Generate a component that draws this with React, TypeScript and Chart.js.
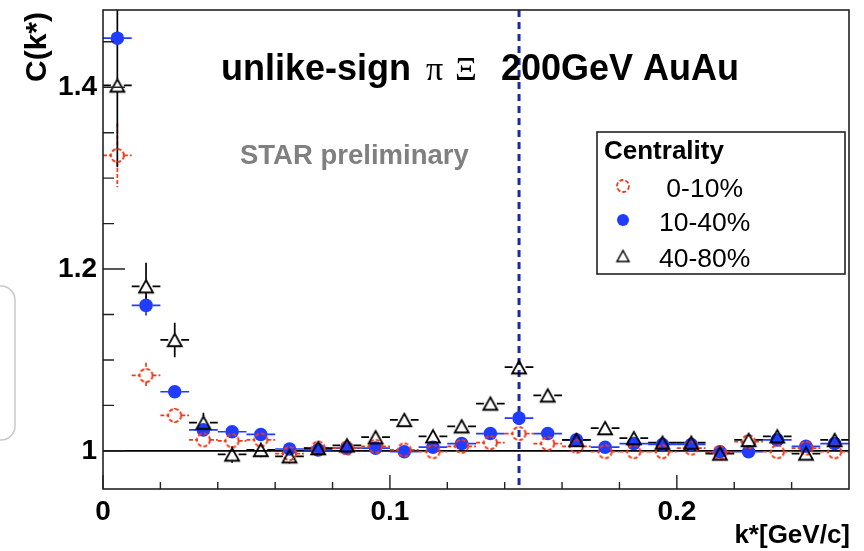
import React, { useEffect, useRef } from 'react';
import { Chart, registerables } from 'chart.js';

Chart.register(...registerables);

// ---- data ----
const kStar = [
  0.005, 0.015, 0.025, 0.035, 0.045, 0.055, 0.065, 0.075, 0.085, 0.095,
  0.105, 0.115, 0.125, 0.135, 0.145, 0.155, 0.165, 0.175, 0.185, 0.195,
  0.205, 0.215, 0.225, 0.235, 0.245, 0.255,
];
const binHalfWidth = 0.005;

const c0to10 = [
  1.325, 1.083, 1.039, 1.012, 1.011, 1.012, 0.997, 1.003, 1.003, 1.005,
  1.001, 0.999, 1.005, 1.009, 1.019, 1.008, 1.005, 0.999, 0.999, 0.999,
  1.003, 0.998, 1.010, 0.999, 1.003, 0.999,
];
const e0to10 = [
  0.035, 0.014, 0.008, 0.006, 0.005, 0.005, 0.005, 0.004, 0.004, 0.004,
  0.004, 0.004, 0.004, 0.004, 0.004, 0.004, 0.004, 0.004, 0.004, 0.004,
  0.004, 0.004, 0.004, 0.004, 0.004, 0.004,
];
const c10to40 = [
  1.454, 1.160, 1.065, 1.023, 1.021, 1.018, 1.002, 1.001, 1.003, 1.003,
  0.999, 1.004, 1.008, 1.019, 1.036, 1.019, 1.012, 1.004, 1.008, 1.007,
  1.007, 0.999, 0.999, 1.012, 1.005, 1.008,
];
const e10to40 = [
  0.008, 0.011, 0.007, 0.005, 0.005, 0.005, 0.004, 0.004, 0.004, 0.004,
  0.004, 0.004, 0.004, 0.004, 0.004, 0.004, 0.004, 0.004, 0.004, 0.004,
  0.004, 0.004, 0.004, 0.004, 0.004, 0.004,
];
const c40to80 = [
  1.402, 1.181, 1.122, 1.031, 0.996, 1.001, 0.994, 1.003, 1.006, 1.015,
  1.034, 1.016, 1.027, 1.052, 1.092, 1.061, 1.012, 1.025, 1.014, 1.009,
  1.009, 0.997, 1.012, 1.016, 0.997, 1.012,
];
const e40to80 = [
  0.09, 0.026, 0.019, 0.011, 0.009, 0.008, 0.008, 0.007, 0.007, 0.007,
  0.007, 0.006, 0.006, 0.006, 0.006, 0.006, 0.006, 0.006, 0.006, 0.006,
  0.006, 0.006, 0.006, 0.006, 0.006, 0.006,
];

const seriesNames = [' 0-10%', '10-40%', '40-80%'];
const legendTitle = 'Centrality';
const plotTitleA = 'unlike-sign';
const plotTitleGreek = ['\u03C0', '\u039E'];
const plotTitleB = '200GeV AuAu';
const watermark = 'STAR preliminary';
const xTitle = 'k*[GeV/c]';
const yTitle = 'C(k*)';

const xMin = 0;
const xMax = 0.26;
const yMin = 0.958;
const yMax = 1.485;
const xMajorTicks = [0, 0.1, 0.2];
const xTickLabels = ['0', '0.1', '0.2'];
const xMinorTicks = [0.02, 0.04, 0.06, 0.08, 0.12, 0.14, 0.16, 0.18, 0.22, 0.24];
const yMajorTicks = [1, 1.2, 1.4];
const yTickLabels = ['1', '1.2', '1.4'];
const yMinorTicks = [1.05, 1.1, 1.15, 1.25, 1.3, 1.35, 1.45];
const referenceLevel = 1;
const thresholdK = 0.145;

// ---- styles ----
const RED = '#ee3b1c';
const BLUE = '#1f3cff';
const BLACK = '#000000';
const DASH_BLUE = '#1c2a9c';
const BOLD = 'bold';
const SANS = '"Liberation Sans", Arial, sans-serif';
const SERIF = '"Liberation Serif", "DejaVu Serif", serif';

function makeDashedCircle(r: number, color: string, lw: number) {
  const size = Math.ceil(2 * r + lw * 2 + 2);
  const c = document.createElement('canvas');
  c.width = size;
  c.height = size;
  const ctx = c.getContext('2d')!;
  ctx.strokeStyle = color;
  ctx.lineWidth = lw;
  ctx.setLineDash([4, 2]);
  ctx.beginPath();
  ctx.arc(size / 2, size / 2, r, 0, Math.PI * 2);
  ctx.stroke();
  return c;
}

function makeTriangle(w: number, h: number, color: string, lw: number) {
  const size = Math.ceil(Math.max(w, h) + lw * 2 + 2);
  const c = document.createElement('canvas');
  c.width = size;
  c.height = size;
  const ctx = c.getContext('2d')!;
  ctx.strokeStyle = color;
  ctx.lineWidth = lw;
  ctx.lineJoin = 'miter';
  const cx = size / 2;
  const cy = size / 2;
  ctx.beginPath();
  ctx.moveTo(cx, cy - h / 2);
  ctx.lineTo(cx + w / 2, cy + h / 2);
  ctx.lineTo(cx - w / 2, cy + h / 2);
  ctx.closePath();
  ctx.stroke();
  return c;
}

export default function App() {
  const canvasRef = useRef<HTMLCanvasElement | null>(null);

  useEffect(() => {
    const canvas = canvasRef.current;
    if (!canvas) return;

    const redMarker = makeDashedCircle(6.5, RED, 2);
    const triMarker = makeTriangle(14, 12.5, BLACK, 1.8);
    const redLegend = makeDashedCircle(6, RED, 1.8);
    const triLegend = makeTriangle(12, 11, BLACK, 1.5);

    const series = [
      { values: c40to80, errors: e40to80, color: BLACK, gap: 6.5, dash: [] as number[] },
      { values: c0to10, errors: e0to10, color: RED, gap: 6.5, dash: [4, 2] },
      { values: c10to40, errors: e10to40, color: BLUE, gap: 6.5, dash: [] as number[] },
    ];

    const overlay = {
      id: 'overlay',
      beforeDatasetsDraw(chart: any) {
        const { ctx, chartArea: a, scales } = chart;
        const x = scales.x;
        const y = scales.y;
        ctx.save();
        ctx.beginPath();
        ctx.rect(a.left, a.top, a.right - a.left, a.bottom - a.top);
        ctx.clip();

        // reference line at C = 1
        const y1 = y.getPixelForValue(referenceLevel);
        ctx.strokeStyle = BLACK;
        ctx.lineWidth = 1.6;
        ctx.beginPath();
        ctx.moveTo(a.left, y1);
        ctx.lineTo(a.right, y1);
        ctx.stroke();

        // dashed threshold line
        const xt = x.getPixelForValue(thresholdK);
        ctx.strokeStyle = DASH_BLUE;
        ctx.lineWidth = 3;
        ctx.setLineDash([7, 5]);
        ctx.beginPath();
        ctx.moveTo(xt, a.top);
        ctx.lineTo(xt, a.bottom);
        ctx.stroke();
        ctx.setLineDash([]);

        // error bars (drawn bottom series first)
        for (let s = series.length - 1; s >= 0; s--) {
          const ser = series[s];
          ctx.strokeStyle = ser.color;
          ctx.lineWidth = 1.7;
          ctx.setLineDash(ser.dash);
          for (let i = 0; i < kStar.length; i++) {
            const px = x.getPixelForValue(kStar[i]);
            const py = y.getPixelForValue(ser.values[i]);
            const xl = x.getPixelForValue(kStar[i] - binHalfWidth);
            const xr = x.getPixelForValue(kStar[i] + binHalfWidth);
            const yt = y.getPixelForValue(ser.values[i] + ser.errors[i]);
            const yb = y.getPixelForValue(ser.values[i] - ser.errors[i]);
            const g = ser.gap;
            ctx.beginPath();
            ctx.moveTo(xl, py);
            ctx.lineTo(px - g, py);
            ctx.moveTo(px + g, py);
            ctx.lineTo(xr, py);
            if (py - yt > g) {
              ctx.moveTo(px, yt);
              ctx.lineTo(px, py - g);
            }
            if (yb - py > g) {
              ctx.moveTo(px, py + g);
              ctx.lineTo(px, yb);
            }
            ctx.stroke();
          }
        }
        ctx.setLineDash([]);
        ctx.restore();
      },
      afterDraw(chart: any) {
        const { ctx, chartArea: a, scales } = chart;
        const x = scales.x;
        const y = scales.y;
        ctx.save();

        // frame
        ctx.strokeStyle = '#222';
        ctx.lineWidth = 1.6;
        ctx.strokeRect(a.left, a.top, a.right - a.left, a.bottom - a.top);

        // ticks (inside the frame)
        ctx.strokeStyle = '#222';
        ctx.lineWidth = 1.4;
        ctx.beginPath();
        xMajorTicks.forEach((v) => {
          const px = x.getPixelForValue(v);
          ctx.moveTo(px, a.bottom);
          ctx.lineTo(px, a.bottom - 14);
        });
        xMinorTicks.forEach((v) => {
          const px = x.getPixelForValue(v);
          ctx.moveTo(px, a.bottom);
          ctx.lineTo(px, a.bottom - 7);
        });
        yMajorTicks.forEach((v) => {
          const py = y.getPixelForValue(v);
          ctx.moveTo(a.left, py);
          ctx.lineTo(a.left + 22, py);
        });
        yMinorTicks.forEach((v) => {
          const py = y.getPixelForValue(v);
          ctx.moveTo(a.left, py);
          ctx.lineTo(a.left + 11, py);
        });
        ctx.stroke();

        // axis titles
        ctx.fillStyle = BLACK;
        ctx.font = `${BOLD} 26px ${SANS}`;
        ctx.textAlign = 'right';
        ctx.textBaseline = 'alphabetic';
        ctx.fillText(xTitle, 850, 543);

        ctx.save();
        ctx.translate(46, 12);
        ctx.rotate(-Math.PI / 2);
        ctx.font = `${BOLD} 30px ${SANS}`;
        ctx.textAlign = 'right';
        ctx.fillText(yTitle, 0, 0);
        ctx.restore();

        // plot title
        ctx.textAlign = 'left';
        ctx.font = `${BOLD} 36px ${SANS}`;
        ctx.fillText(plotTitleA, 221, 80);
        ctx.font = `34px ${SERIF}`;
        ctx.fillText(plotTitleGreek[0], 426, 80);
        ctx.fillText(plotTitleGreek[1], 455, 80);
        ctx.font = `${BOLD} 36px ${SANS}`;
        ctx.fillText(plotTitleB, 501, 80);

        // watermark
        ctx.fillStyle = '#808080';
        ctx.font = `${BOLD} 27.5px ${SANS}`;
        ctx.fillText(watermark, 240, 164);

        // legend
        ctx.fillStyle = '#ffffff';
        ctx.fillRect(597, 132, 248, 142);
        ctx.strokeStyle = '#222';
        ctx.lineWidth = 1.6;
        ctx.strokeRect(597, 132, 248, 142);
        ctx.fillStyle = BLACK;
        ctx.font = `${BOLD} 26px ${SANS}`;
        ctx.fillText(legendTitle, 604, 159);
        ctx.font = `26.5px ${SANS}`;
        ctx.fillText(seriesNames[0], 659, 197);
        ctx.fillText(seriesNames[1], 659, 231);
        ctx.fillText(seriesNames[2], 659, 267);
        ctx.drawImage(redLegend, 623 - redLegend.width / 2, 186 - redLegend.height / 2);
        ctx.fillStyle = BLUE;
        ctx.beginPath();
        ctx.arc(623, 220, 6, 0, Math.PI * 2);
        ctx.fill();
        ctx.drawImage(triLegend, 623 - triLegend.width / 2, 256 - triLegend.height / 2);

        // faint bracket at the left page edge
        ctx.strokeStyle = '#c9c9c9';
        ctx.lineWidth = 1.5;
        ctx.beginPath();
        ctx.roundRect(-40, 286, 55, 154, 14);
        ctx.stroke();

        ctx.restore();
      },
    };

    const toPoints = (vals: number[]) => kStar.map((k, i) => ({ x: k, y: vals[i] }));

    const chart = new Chart(canvas, {
      type: 'scatter',
      data: {
        datasets: [
          {
            label: seriesNames[2],
            data: toPoints(c40to80),
            pointStyle: triMarker as any,
            pointRadius: 7,
            showLine: false,
          },
          {
            label: seriesNames[0],
            data: toPoints(c0to10),
            pointStyle: redMarker as any,
            pointRadius: 7,
            showLine: false,
          },
          {
            label: seriesNames[1],
            data: toPoints(c10to40),
            pointStyle: 'circle',
            pointRadius: 6.8,
            backgroundColor: BLUE,
            borderColor: BLUE,
            borderWidth: 0,
            showLine: false,
          },
        ],
      },
      options: {
        animation: false,
        responsive: true,
        maintainAspectRatio: false,
        events: [],
        layout: { padding: { top: 10, right: 15, left: 0, bottom: 0 } },
        plugins: {
          legend: { display: false },
          tooltip: { enabled: false },
          title: { display: false },
        },
        scales: {
          x: {
            type: 'linear',
            min: xMin,
            max: xMax,
            grid: { display: false, drawTicks: false },
            border: { display: false },
            afterBuildTicks: (s: any) => {
              s.ticks = xMajorTicks.map((v) => ({ value: v }));
            },
            afterFit: (s: any) => {
              s.height = 62;
              s.paddingLeft = 0;
              s.paddingRight = 0;
            },
            ticks: {
              autoSkip: false,
              maxRotation: 0,
              padding: 6,
              color: BLACK,
              font: { family: SANS, size: 28, weight: 'bold' },
              callback: (_v: any, i: number) => xTickLabels[i],
            },
          },
          y: {
            type: 'linear',
            min: yMin,
            max: yMax,
            grid: { display: false, drawTicks: false },
            border: { display: false },
            afterBuildTicks: (s: any) => {
              s.ticks = yMajorTicks.map((v) => ({ value: v }));
            },
            afterFit: (s: any) => {
              s.width = 103;
              s.paddingTop = 0;
              s.paddingBottom = 0;
            },
            ticks: {
              autoSkip: false,
              padding: 6,
              color: BLACK,
              font: { family: SANS, size: 28, weight: 'bold' },
              callback: (_v: any, i: number) => yTickLabels[i],
            },
          },
        },
      },
      plugins: [overlay],
    } as any);

    return () => chart.destroy();
  }, []);

  return (
    <div style={{ position: 'fixed', left: 0, top: 0, width: 864, height: 551, background: '#fff' }}>
      <canvas ref={canvasRef} />
    </div>
  );
}
